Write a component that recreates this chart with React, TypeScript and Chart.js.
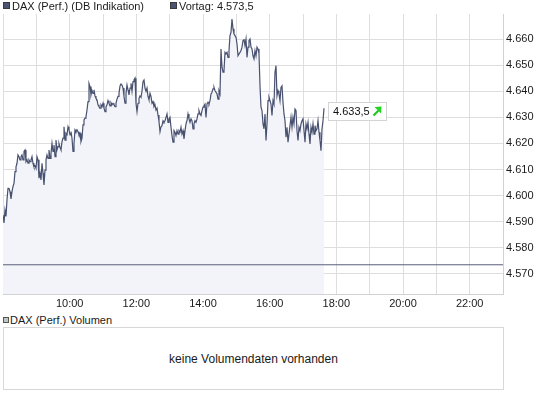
import React, { useEffect, useRef } from "react";
import { Chart, registerables } from "chart.js";

Chart.register(...registerables);

// ---- data ----
const seriesLabel = "DAX (Perf.) (DB Indikation)";
const previousLabel = "Vortag: 4.573,5";
const volumeLabel = "DAX (Perf.) Volumen";
const noVolumeText = "keine Volumendaten vorhanden";

const startHour = 8;
const endHour = 23;
const sampleIntervalMinutes = 1.8;

const prices = [
  4592.6, 4589.5, 4594.5, 4592.0, 4598.4, 4602.8, 4602.8, 4601.5, 4598.7, 4601.5,
  4603.5, 4604.7, 4609.2, 4611.0, 4612.4, 4615.6, 4614.9, 4613.7, 4614.9, 4615.6,
  4613.7, 4616.9, 4617.5, 4613.0, 4613.7, 4612.4, 4613.7, 4613.0, 4613.7, 4614.9,
  4612.4, 4611.0, 4611.4, 4610.5, 4614.9, 4613.7, 4606.7, 4608.6, 4606.0, 4612.4,
  4608.6, 4604.1, 4609.8, 4613.7, 4615.6, 4614.3, 4617.5, 4614.3, 4616.2, 4620.0,
  4616.9, 4619.4, 4614.9, 4621.3, 4617.5, 4618.8, 4620.0, 4618.5, 4617.5, 4620.7,
  4622.0, 4626.4, 4621.3, 4623.9, 4623.3, 4626.4, 4625.2, 4623.3, 4624.5, 4622.0,
  4616.9, 4620.0, 4625.2, 4624.5, 4625.2, 4624.5, 4623.3, 4623.9, 4620.7,
  4622.0, 4627.1, 4629.0, 4629.7, 4630.3, 4632.8, 4636.0, 4643.0, 4641.8, 4638.6,
  4640.3, 4639.2, 4640.5, 4638.2, 4637.3, 4636.7, 4634.8, 4634.1, 4633.5, 4634.8,
  4634.1, 4635.4, 4633.5, 4632.2, 4634.1, 4634.8, 4636.4, 4635.4, 4634.4, 4635.6,
  4634.8, 4635.4, 4634.8, 4634.1, 4635.4, 4637.0, 4638.0, 4639.2, 4642.0, 4642.8,
  4642.4, 4641.2, 4638.0, 4635.4, 4639.2, 4642.4, 4640.5, 4638.6, 4641.2, 4643.0,
  4640.0, 4643.7, 4644.3, 4645.0, 4635.4, 4632.2, 4635.4, 4637.3, 4638.2, 4637.7,
  4640.0, 4643.7, 4644.3, 4641.2, 4640.0, 4641.2, 4638.0, 4636.7, 4639.2, 4638.0,
  4635.4, 4636.0, 4634.1, 4634.8, 4632.8, 4633.5, 4630.9, 4628.4, 4624.5, 4626.4,
  4626.8, 4628.7, 4628.1, 4628.7, 4630.0, 4631.3, 4628.1, 4629.4, 4630.0, 4626.2,
  4623.0, 4620.5, 4624.9, 4624.3, 4623.0, 4624.9, 4623.6, 4624.9, 4624.3, 4626.2,
  4623.6, 4624.9, 4621.7, 4624.9, 4627.5, 4628.7, 4631.3, 4629.4, 4628.1, 4629.4,
  4628.7, 4625.6, 4627.5, 4628.7, 4628.1, 4629.4, 4631.3, 4632.6, 4631.3, 4630.7,
  4632.6, 4633.9, 4634.5, 4635.1, 4630.0, 4635.1, 4635.8, 4635.1, 4636.4, 4639.0,
  4639.6, 4640.9, 4641.5, 4640.2, 4639.6, 4639.0, 4637.0, 4640.2, 4639.0, 4656.2,
  4649.2, 4647.3, 4647.9, 4654.9, 4654.3, 4654.9, 4653.0, 4655.6, 4661.3, 4662.6,
  4667.7, 4663.9, 4662.0, 4661.3, 4660.6, 4658.1, 4653.6, 4654.3, 4654.9, 4655.6,
  4656.9, 4659.4, 4660.0, 4657.5, 4660.0, 4653.0, 4656.9, 4659.4, 4660.0, 4656.9,
  4656.2, 4653.6, 4652.4, 4655.6, 4653.6, 4656.9, 4656.2, 4654.3, 4642.1, 4633.9,
  4632.6, 4627.5, 4625.6, 4631.3, 4621.1, 4627.5, 4636.4, 4637.7, 4636.4, 4635.1,
  4630.7, 4636.4, 4635.1, 4647.3, 4649.8, 4638.3, 4640.2, 4639.0, 4636.4, 4641.5,
  4642.1, 4635.8, 4631.3, 4628.7, 4622.4, 4626.2, 4620.5, 4623.6, 4626.8, 4630.0,
  4626.2, 4630.0, 4627.5, 4633.2, 4632.6, 4624.9, 4621.1, 4626.2, 4624.9, 4627.5,
  4628.7, 4629.4, 4624.9, 4620.5, 4627.5, 4625.6, 4628.1, 4623.6, 4619.8, 4626.2,
  4624.3, 4627.5, 4623.6, 4626.8, 4624.9, 4625.6, 4628.7, 4624.3, 4621.1, 4617.2,
  4625.6, 4628.7, 4633.5,
];

const previousClose = 4573.5;
const lastPrice = 4633.5;

const yMin = 4562.3;
const yMax = 4669.6;
const yTicks = [4570, 4580, 4590, 4600, 4610, 4620, 4630, 4640, 4650, 4660];
const hourTicks = [8, 9, 10, 11, 12, 13, 14, 15, 16, 17, 18, 19, 20, 21, 22, 23];
const labeledHours = [10, 12, 14, 16, 18, 20, 22];

// ---- helpers ----
const FONT = "'Liberation Sans', Arial, sans-serif";

function fmtThousands(v: number): string {
  const s = Math.round(v).toString();
  return s.slice(0, -3) + "." + s.slice(-3);
}
function fmtPrice(v: number): string {
  const i = Math.floor(v);
  const d = Math.round((v - i) * 10);
  return fmtThousands(i) + "," + d;
}

const pricePoints = prices.map((p, i) => ({
  x: startHour * 60 + i * sampleIntervalMinutes,
  y: p,
}));
const lastPoint = pricePoints[pricePoints.length - 1];

const lastLabelPlugin = {
  id: "lastLabel",
  afterDatasetsDraw(chart: any) {
    const { ctx, scales } = chart;
    const lx = scales.x.getPixelForValue(lastPoint.x);
    const ly = scales.y.getPixelForValue(lastPrice);
    const bx = Math.round(lx + 4) + 0.5;
    const by = Math.round(ly - 6) + 0.5;
    const w = 58;
    const h = 18;
    ctx.save();
    ctx.fillStyle = "#ffffff";
    ctx.fillRect(bx, by, w, h);
    ctx.strokeStyle = "#d4d4d4";
    ctx.lineWidth = 1;
    ctx.strokeRect(bx, by, w, h);
    ctx.fillStyle = "#111111";
    ctx.font = "11px " + FONT;
    ctx.textBaseline = "middle";
    ctx.textAlign = "left";
    ctx.fillText(fmtPrice(lastPrice), bx + 4.5, by + h / 2 + 0.5);
    // green up-right arrow
    ctx.strokeStyle = "#22c422";
    ctx.lineWidth = 2.2;
    ctx.beginPath();
    ctx.moveTo(bx + 45, by + 13);
    ctx.lineTo(bx + 50, by + 8);
    ctx.stroke();
    ctx.fillStyle = "#22d422";
    ctx.beginPath();
    ctx.moveTo(bx + 53, by + 4);
    ctx.lineTo(bx + 46, by + 4.5);
    ctx.lineTo(bx + 52.5, by + 11);
    ctx.closePath();
    ctx.fill();
    ctx.restore();
  },
};

export default function App() {
  const canvasRef = useRef<HTMLCanvasElement | null>(null);

  useEffect(() => {
    const canvas = canvasRef.current;
    if (!canvas) return;
    const chart = new Chart(canvas, {
      type: "line",
      data: {
        datasets: [
          {
            label: previousLabel,
            data: [
              { x: startHour * 60, y: previousClose },
              { x: endHour * 60, y: previousClose },
            ],
            borderColor: "#5a5f7a",
            borderWidth: 1,
            pointRadius: 0,
            fill: false,
          },
          {
            label: seriesLabel,
            data: pricePoints,
            borderColor: "#48516f",
            borderWidth: 1.2,
            pointRadius: 0,
            tension: 0,
            fill: "start",
            backgroundColor: "#f3f4fa",
          },
        ],
      },
      options: {
        animation: false,
        responsive: false,
        maintainAspectRatio: false,
        events: [],
        layout: { padding: { left: 3, top: 14, right: 0, bottom: 0 } },
        plugins: {
          legend: { display: false },
          tooltip: { enabled: false },
        },
        scales: {
          x: {
            type: "linear",
            position: "bottom",
            min: startHour * 60,
            max: endHour * 60,
            afterBuildTicks: (s: any) => {
              s.ticks = hourTicks.map((hr) => ({ value: hr * 60 }));
            },
            afterFit: (s: any) => {
              s.height = 18;
            },
            grid: { color: "#dedede", drawTicks: false, lineWidth: 1 },
            border: { color: "#d2d2d2" },
            ticks: {
              padding: 3,
              autoSkip: false,
              maxRotation: 0,
              color: "#1a1a1a",
              font: { family: FONT, size: 11 },
              callback: (v: any) => {
                const hr = Math.round(Number(v) / 60);
                return labeledHours.includes(hr) ? `${hr}:00` : "";
              },
            },
          },
          y: {
            type: "linear",
            position: "right",
            min: yMin,
            max: yMax,
            afterBuildTicks: (s: any) => {
              s.ticks = yTicks.map((v) => ({ value: v }));
            },
            afterFit: (s: any) => {
              s.width = 42;
            },
            grid: { color: "#dedede", drawTicks: false, lineWidth: 1 },
            border: { color: "#d2d2d2" },
            ticks: {
              padding: 3,
              color: "#1a1a1a",
              font: { family: FONT, size: 11 },
              callback: (v: any) => fmtThousands(Number(v)),
            },
          },
        },
      },
      plugins: [lastLabelPlugin],
    } as any);
    return () => chart.destroy();
  }, []);

  const text: React.CSSProperties = {
    position: "absolute",
    fontFamily: FONT,
    fontSize: 11,
    lineHeight: "13px",
    color: "#1a1a1a",
    whiteSpace: "nowrap",
  };

  return (
    <div
      style={{
        position: "fixed",
        left: 0,
        top: 0,
        width: 545,
        height: 395,
        background: "#ffffff",
        overflow: "hidden",
      }}
    >
      <canvas
        ref={canvasRef}
        width={545}
        height={312}
        style={{ position: "absolute", left: 0, top: 0, width: 545, height: 312 }}
      />
      {/* legend row */}
      <div
        style={{
          position: "absolute",
          left: 3,
          top: 2,
          width: 5,
          height: 5,
          border: "1px solid #3a3a3a",
          background: "#4b5573",
        }}
      />
      <div style={{ ...text, left: 12, top: 0 }}>{seriesLabel}</div>
      <div
        style={{
          position: "absolute",
          left: 170,
          top: 2,
          width: 5,
          height: 5,
          border: "1px solid #3a3a3a",
          background: "#4b5573",
        }}
      />
      <div style={{ ...text, left: 179, top: 0 }}>{previousLabel}</div>

      {/* volume panel */}
      <div
        style={{
          position: "absolute",
          left: 3,
          top: 317,
          width: 4,
          height: 4,
          border: "1px solid #555555",
          background: "#c4c4c4",
        }}
      />
      <div style={{ ...text, left: 10, top: 314 }}>{volumeLabel}</div>
      <div
        style={{
          position: "absolute",
          left: 3,
          top: 327,
          width: 501,
          height: 63,
          boxSizing: "border-box",
          border: "1px solid #d8d8d8",
          display: "flex",
          alignItems: "center",
          justifyContent: "center",
          fontFamily: FONT,
          fontSize: 12,
          color: "#1a1a1a",
        }}
      >
        {noVolumeText}
      </div>
    </div>
  );
}
